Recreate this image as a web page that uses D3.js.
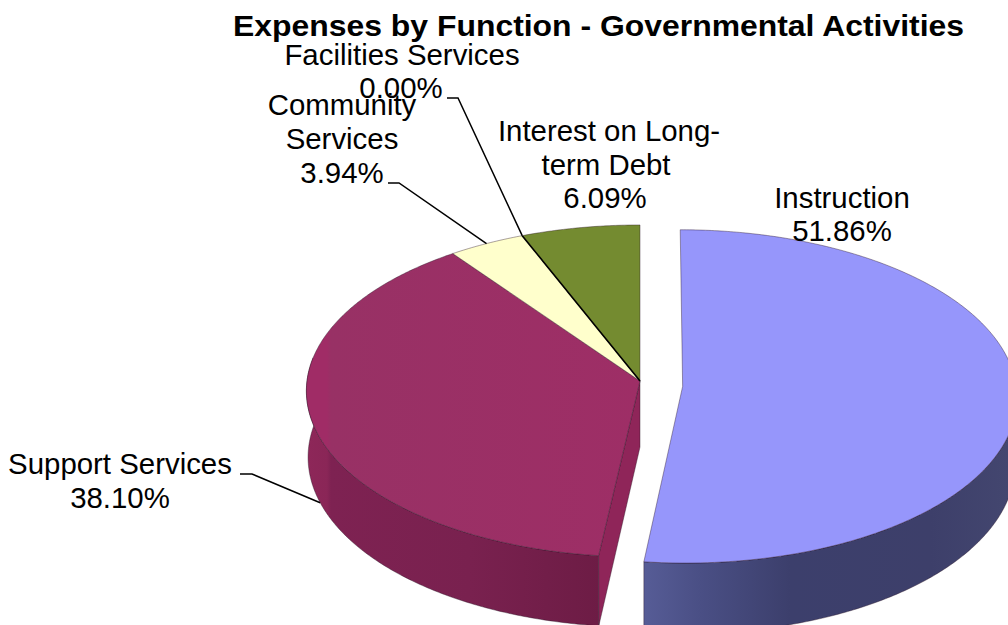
<!DOCTYPE html>
<html>
<head>
<meta charset="utf-8">
<script src="https://cdnjs.cloudflare.com/ajax/libs/d3/7.8.5/d3.min.js"></script>
<style>
  html, body { margin: 0; padding: 0; background: #fff; overflow: hidden; }
  svg { display: block; }
  text { font-family: "Liberation Sans", Arial, sans-serif; fill: #000; }
</style>
</head>
<body>
<svg id="chart" width="1008" height="625"></svg>
<script>
// Expense shares, clockwise from twelve o'clock
const categories = ["Instruction", "Support Services", "Community Services", "Facilities Services", "Interest on Long-term Debt"];
const shares = [51.86, 38.10, 3.94, 0.00, 6.09];
const shareLabels = ["51.86%", "38.10%", "3.94%", "0.00%", "6.09%"];
const titleText = "Expenses by Function - Governmental Activities";

const svg = d3.select("#chart");
const defs = svg.append("defs");

// Ground-plane disc projected with mild perspective; z runs from the top face (0) to the floor (1)
const view = { x0: 640, y0: 381, a: 333, b: 165.4, tilt: 0.06, height: 66, taper: 0.005 };
function project(u, v, z) {
  const w = 1 + view.tilt * v;
  return [
    view.x0 + view.a * u * (1 - view.taper * z) / w,
    view.y0 - view.b * v / w + z * view.height / w
  ];
}

const pie = d3.pie().sort(null).value(d => d).startAngle(0).endAngle(2 * Math.PI);
const arcs = pie(shares);
const line = d3.line();
// Detached wedge offset along its bisector, plus a small drop toward the viewer
const explodeBy = [0.128, 0, 0, 0, 0];
const explodeDrop = [0.025, 0, 0, 0, 0];

function shift(i) {
  const mid = (arcs[i].startAngle + arcs[i].endAngle) / 2;
  return [explodeBy[i] * Math.sin(mid), explodeBy[i] * Math.cos(mid) - explodeDrop[i]];
}
function angles(i) {
  const a0 = arcs[i].startAngle, a1 = arcs[i].endAngle;
  const n = Math.max(2, Math.ceil((a1 - a0) / 0.01));
  return d3.range(n + 1).map(k => a0 + (a1 - a0) * k / n);
}
function at(i, t, z) {
  const [du, dv] = shift(i);
  return project(du + Math.sin(t), dv + Math.cos(t), z);
}
function rim(i, z) {
  return angles(i).map(t => at(i, t, z));
}
function frontRim(i, z) {
  // Only the part of the rim turned toward the viewer has a visible wall
  return angles(i).filter(t => Math.cos(t) < 0.15).map(t => at(i, t, z));
}
function hub(i, z) {
  const [du, dv] = shift(i);
  return project(du, dv, z);
}

function hGradient(id, stops) {
  const g = defs.append("linearGradient").attr("id", id)
    .attr("gradientUnits", "userSpaceOnUse")
    .attr("x1", 0).attr("x2", 1008).attr("y1", 0).attr("y2", 0);
  stops.forEach(([o, c]) => g.append("stop").attr("offset", o / 1008).attr("stop-color", c));
}
hGradient("wallBlue", [[645, "#565c96"], [700, "#4a4f85"], [790, "#3c3f6c"], [930, "#3d3f6a"], [1008, "#43466f"]]);
hGradient("wallPlum", [[305, "#8e2759"], [327, "#8a2657"], [331, "#7e2252"], [470, "#79214f"], [600, "#6d1c45"]]);
hGradient("topPlum", [[305, "#a02c66"], [327, "#a02c66"], [331, "#983165"], [640, "#9e2e66"]]);

function styled(sel, fill) {
  return sel.attr("fill", fill).attr("stroke", "#2b1426")
    .attr("stroke-opacity", 0.5).attr("stroke-width", 0.8)
    .attr("stroke-linejoin", "round");
}

const wallFills = ["url(#wallBlue)", "url(#wallPlum)", null, null, null];
const topFills = ["#9696fb", "url(#topPlum)", "#ffffcc", "#ffffcc", "#748b30"];

// Support wedge sits behind the detached Instruction wedge
const order = [1, 2, 4, 0];
order.forEach(i => {
  if (wallFills[i]) {
    const top = frontRim(i, 0), floor = frontRim(i, 1);
    styled(svg.append("path"), wallFills[i])
      .attr("d", line(top.concat(floor.slice().reverse())) + "Z");
    if (i === 1) {
      // Cut face of the Support wedge, visible through the gap
      styled(svg.append("path"), "#8f2559")
        .attr("d", line([hub(i, 0), top[0], floor[0], hub(i, 1)]) + "Z");
    }
  }
  styled(svg.append("path"), topFills[i])
    .attr("d", line([hub(i, 0)].concat(rim(i, 0))) + "Z");
});

// The empty Facilities wedge shows up only as its black edge
const facilitiesRim = at(3, arcs[3].startAngle, 0);
svg.append("path").attr("fill", "none").attr("stroke", "#000").attr("stroke-width", 1.6)
  .attr("d", line([hub(3, 0), facilitiesRim]));

// Leader lines: label elbow, then on to the wedge
const leaders = [
  { elbow: [[240, 474], [252, 474]], end: at(1, arcs[1].startAngle + 0.47 * (arcs[1].endAngle - arcs[1].startAngle), 1) },
  { elbow: [[388, 183], [399, 183]], end: at(2, (arcs[2].startAngle + arcs[2].endAngle) / 2, 0) },
  { elbow: [[447, 98], [458, 98]], end: facilitiesRim }
];
leaders.forEach(d => {
  svg.append("path").attr("fill", "none").attr("stroke", "#000").attr("stroke-width", 1.5)
    .attr("d", line(d.elbow.concat([d.end])));
});

// Category labels, one text line per row
const labelLines = [
  ["Instruction", shareLabels[0]],
  ["Support Services", shareLabels[1]],
  ["Community", "Services", shareLabels[2]],
  ["Facilities Services", shareLabels[3]],
  ["Interest on Long-", "term Debt", shareLabels[4]]
];
const labelSpots = [
  { x: [842, 842], y: [208, 241] },
  { x: [120, 120], y: [474, 508] },
  { x: [342, 342, 342], y: [115, 149, 183] },
  { x: [402, 401], y: [65, 98] },
  { x: [609, 606, 605], y: [141, 175, 208] }
];
labelLines.forEach((rows, i) => {
  rows.forEach((txt, r) => {
    svg.append("text")
      .attr("x", labelSpots[i].x[r]).attr("y", labelSpots[i].y[r])
      .attr("text-anchor", "middle").attr("font-size", 29.4).text(txt);
  });
});

// Title is set slightly wide
svg.append("text").attr("x", 233).attr("y", 36)
  .attr("font-size", 30).attr("font-weight", "bold")
  .attr("textLength", 731).attr("lengthAdjust", "spacingAndGlyphs").text(titleText);
</script>
</body>
</html>
